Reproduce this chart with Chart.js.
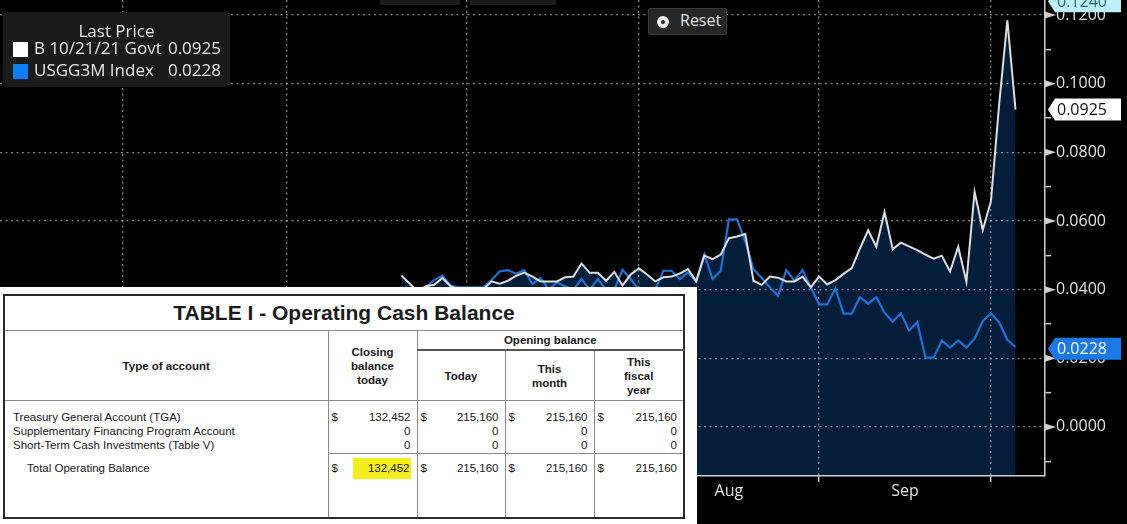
<!DOCTYPE html>
<html>
<head>
<meta charset="utf-8">
<script src="https://cdn.jsdelivr.net/npm/chart.js@4.4.1/dist/chart.umd.min.js"></script>
<style>
html, body { margin: 0; padding: 0; background: #000; }
#wrap { position: relative; width: 1127px; height: 524px; overflow: hidden; background: #000; font-family: "Open Sans", sans-serif; }
#chart { position: absolute; left: 0; top: 0; }
.topbox { position: absolute; top: 0; height: 5px; background: #1d1d1d; }
.legend { position: absolute; left: 3px; top: 12px; width: 227px; height: 75px; background: #1b1b1b; border-radius: 4px; color: #e6e6e6; font-size: 17px; }
.legend .lh { position: absolute; left: 0; right: 0; top: 7px; text-align: center; }
.legend .sw { position: absolute; left: 10px; width: 15px; height: 15px; }
.legend .nm { position: absolute; left: 31px; }
.legend .val { position: absolute; right: 9px; }
.reset { position: absolute; left: 648px; top: 8px; width: 77px; height: 25px; background: #262626; border: 1px solid #3a3a3a; border-radius: 2px; color: #e2e2e2; font-size: 16px; }
.reset .ic { position: absolute; left: 8px; top: 7px; width: 12px; height: 12px; border-radius: 50%; background: #f2f2f2; }
.reset .ic::after { content: ""; position: absolute; left: 4px; top: 4px; width: 4px; height: 4px; border-radius: 50%; background: #262626; }
.reset .tx { position: absolute; left: 31px; top: 0px; }
.doc { position: absolute; left: 0; top: 287px; width: 697px; height: 237px; background: #fff; }
.cash { position: absolute; left: 3px; top: 7px; width: 680px; border-collapse: collapse; table-layout: fixed; font-family: "Liberation Sans", Arial, sans-serif; color: #1a1a1a; border: 2px solid #2a2a2a; }
.cash td, .cash th { border: 1px solid #8a8a8a; padding: 0; font-size: 11.5px; line-height: 14px; }
.cash th { font-weight: bold; text-align: center; vertical-align: middle; }
.cash .title { height: 34px; font-size: 21px; font-weight: bold; text-align: center; vertical-align: middle; line-height: 24px; }
.cash .r-h1 th { height: 18px; }
.cash th.open { border-bottom: 2px solid #555; }
.cash .r-h2 th { height: 49px; }
.cash td.acct { vertical-align: top; padding: 9px 0 0 8px; border-bottom: 2px solid #2a2a2a; }
.cash .tot { margin-top: 9px; padding-left: 14px; }
.cash .r-body td.num { height: 43px; padding-top: 9px; }
.cash td.num { vertical-align: top; text-align: right; padding: 7px 6px 0 3px; }
.cash .cur { float: left; }
.cash .r-total td.num { border-top: 1px solid #333; height: 56px; }
.cash .hl { background: #f4ef1c; padding: 4px 1px 5px 15px; }
</style>
</head>
<body>
<div id="wrap">
  <canvas id="chart" width="1127" height="524"></canvas>

  <div class="topbox" style="left:380px;width:80px"></div>
  <div class="topbox" style="left:470px;width:86px"></div>

  <div class="legend">
    <div class="lh">Last Price</div>
    <span class="sw" style="top:30px;background:#ffffff"></span>
    <span class="nm" style="top:24px">B 10/21/21 Govt</span>
    <span class="val" style="top:24px">0.0925</span>
    <span class="sw" style="top:52px;background:#0b7ff5"></span>
    <span class="nm" style="top:46px">USGG3M Index</span>
    <span class="val" style="top:46px">0.0228</span>
  </div>

  <div class="reset"><span class="ic"></span><span class="tx">Reset</span></div>

  <div class="doc">
    <table class="cash">
      <colgroup><col style="width:324px"><col style="width:89px"><col style="width:88px"><col style="width:89px"><col style="width:90px"></colgroup>
      <tr><td colspan="5" class="title">TABLE I - Operating Cash Balance</td></tr>
      <tr class="r-h1"><th rowspan="2">Type of account</th><th rowspan="2">Closing<br>balance<br>today</th><th colspan="3" class="open">Opening balance</th></tr>
      <tr class="r-h2"><th>Today</th><th>This<br>month</th><th>This<br>fiscal<br>year</th></tr>
      <tr class="r-body">
        <td rowspan="2" class="acct">Treasury General Account (TGA)<br>Supplementary Financing Program Account<br>Short-Term Cash Investments (Table V)<div class="tot">Total Operating Balance</div></td>
        <td class="num"><span class="cur">$</span>132,452<br>0<br>0</td>
        <td class="num"><span class="cur">$</span>215,160<br>0<br>0</td>
        <td class="num"><span class="cur">$</span>215,160<br>0<br>0</td>
        <td class="num"><span class="cur">$</span>215,160<br>0<br>0</td>
      </tr>
      <tr class="r-total">
        <td class="num"><span class="cur">$</span><span class="hl">132,452</span></td>
        <td class="num"><span class="cur">$</span>215,160</td>
        <td class="num"><span class="cur">$</span>215,160</td>
        <td class="num"><span class="cur">$</span>215,160</td>
      </tr>
    </table>
  </div>
</div>

<script>
// trading days counted from 3 May 2021, the first point is 21 Jun 2021
const firstDay = 34;
const monthStarts = [0, 20, 42, 63, 85, 106, 127];
const monthNames = ["May", "Jun", "Jul", "Aug", "Sep", "Oct"];

// B 10/21/21 Govt
const billYield = [
  0.0441, 0.0418, 0.0395, 0.0410, 0.0414, 0.0434, 0.0410, 0.0398, 0.0395, 0.0396,
  0.0400, 0.0424, 0.0417, 0.0426, 0.0440, 0.0450, 0.0438, 0.0424, 0.0424, 0.0424,
  0.0436, 0.0438, 0.0476, 0.0449, 0.0449, 0.0426, 0.0452, 0.0412, 0.0444, 0.0462,
  0.0444, 0.0424, 0.0436, 0.0438, 0.0447, 0.0460, 0.0424, 0.0499, 0.0489, 0.0502,
  0.0550, 0.0555, 0.0562, 0.0426, 0.0414, 0.0438, 0.0435, 0.0424, 0.0424, 0.0438,
  0.0407, 0.0438, 0.0415, 0.0428, 0.0446, 0.0463, 0.0520, 0.0573, 0.0525, 0.0626,
  0.0518, 0.0537, 0.0526, 0.0515, 0.0502, 0.0490, 0.0499, 0.0453, 0.0525, 0.0423,
  0.0685, 0.0574, 0.0658, 0.0940, 0.1185, 0.0925
];

// USGG3M Index
const usgg3m = [
  0.0380, 0.0385, 0.0390, 0.0407, 0.0428, 0.0441, 0.0412, 0.0407, 0.0407, 0.0407,
  0.0407, 0.0428, 0.0453, 0.0457, 0.0446, 0.0457, 0.0417, 0.0434, 0.0400, 0.0421,
  0.0410, 0.0400, 0.0431, 0.0400, 0.0431, 0.0400, 0.0400, 0.0458, 0.0431, 0.0400,
  0.0400, 0.0400, 0.0455, 0.0455, 0.0431, 0.0450, 0.0424, 0.0503, 0.0431, 0.0455,
  0.0605, 0.0605, 0.0540, 0.0460, 0.0434, 0.0407, 0.0382, 0.0457, 0.0426, 0.0457,
  0.0407, 0.0357, 0.0357, 0.0404, 0.0330, 0.0330, 0.0378, 0.0359, 0.0378, 0.0333,
  0.0307, 0.0331, 0.0281, 0.0305, 0.0202, 0.0202, 0.0252, 0.0231, 0.0252, 0.0231,
  0.0257, 0.0308, 0.0331, 0.0305, 0.0254, 0.0233
];

const lastPrice = [0.0925, 0.0228];
const highMark = 0.1240;

const xMin = -15.02, xMax = 112.6;
const yMin = -0.0143, yMax = 0.1244;

const gridColor = "rgba(165,165,165,0.8)";
const axisColor = "#cfcfcf";
const labelColor = "#e4e4e4";

const toPoints = arr => arr.map((v, i) => ({ x: firstDay + i, y: v }));

// month starts carry the grid, the middle of each month carries its name
const monthMids = monthNames.map((m, i) => (monthStarts[i] + monthStarts[i + 1]) / 2);
const xTickVals = monthStarts.concat(monthMids).sort((a, b) => a - b);
const isMonthStart = v => monthStarts.includes(v);
const isMajor = v => Math.abs(Math.round(v * 100)) % 2 === 0;

const priceTags = {
  id: "priceTags",
  afterDraw(chart) {
    const { ctx, chartArea } = chart;
    const y = chart.scales.y;
    const x0 = chartArea.right;
    ctx.save();
    ctx.fillStyle = axisColor;
    y.ticks.forEach(t => {
      if (!isMajor(t.value)) return;
      const py = y.getPixelForValue(t.value);
      ctx.beginPath();
      ctx.moveTo(x0, py - 3.5);
      ctx.lineTo(x0 + 11, py);
      ctx.lineTo(x0, py + 3.5);
      ctx.closePath();
      ctx.fill();
    });
    const tags = [
      { v: highMark, bg: "#bdeff6", fg: "#2b6b78" },
      { v: lastPrice[0], bg: "#ffffff", fg: "#111111" },
      { v: lastPrice[1], bg: "#1a78e8", fg: "#ffffff" }
    ];
    ctx.font = "16px 'Open Sans'";
    ctx.textBaseline = "middle";
    tags.forEach(tag => {
      const py = y.getPixelForValue(tag.v);
      ctx.fillStyle = tag.bg;
      ctx.beginPath();
      ctx.moveTo(x0 + 3, py);
      ctx.lineTo(x0 + 10, py - 11);
      ctx.lineTo(x0 + 76, py - 11);
      ctx.lineTo(x0 + 76, py + 11);
      ctx.lineTo(x0 + 10, py + 11);
      ctx.closePath();
      ctx.fill();
      ctx.fillStyle = tag.fg;
      ctx.fillText(tag.v.toFixed(4), x0 + 12, py + 1);
    });
    ctx.restore();
  }
};

new Chart(document.getElementById("chart"), {
  type: "line",
  data: {
    datasets: [
      {
        label: "B 10/21/21 Govt",
        data: toPoints(billYield),
        borderColor: "#dedede",
        borderWidth: 2,
        backgroundColor: "#031d3b",
        fill: "start",
        pointRadius: 0,
        tension: 0,
        order: 0
      },
      {
        label: "USGG3M Index",
        data: toPoints(usgg3m),
        borderColor: "#1f72d8",
        borderWidth: 2.2,
        fill: false,
        pointRadius: 0,
        tension: 0,
        order: 1
      }
    ]
  },
  options: {
    responsive: false,
    animation: false,
    layout: { padding: 0 },
    plugins: {
      legend: { display: false },
      tooltip: { enabled: false },
      filler: { drawTime: "beforeDraw" }
    },
    scales: {
      x: {
        type: "linear",
        min: xMin,
        max: xMax,
        afterBuildTicks: s => {
          s.ticks = xTickVals.filter(v => v >= s.min && v <= s.max).map(v => ({ value: v }));
        },
        afterFit: s => { s.height = 48; s.paddingLeft = 0; s.paddingRight = 0; },
        grid: {
          color: c => (c.tick && isMonthStart(c.tick.value) ? gridColor : "transparent"),
          lineWidth: 1.3,
          tickLength: 6,
          tickWidth: 1.5,
          tickColor: c => (c.tick && isMonthStart(c.tick.value) ? axisColor : "transparent")
        },
        border: { display: true, color: axisColor, width: 1.5, dash: [2, 3.5] },
        ticks: {
          autoSkip: false,
          maxRotation: 0,
          padding: 0,
          color: labelColor,
          font: { family: "Open Sans", size: 16 },
          callback: v => {
            const i = monthMids.indexOf(v);
            return i < 0 ? "" : monthNames[i];
          }
        }
      },
      y: {
        position: "right",
        min: yMin,
        max: yMax,
        afterFit: s => { s.width = 82; s.paddingTop = 0; s.paddingBottom = 0; },
        grid: {
          color: c => (c.tick && isMajor(c.tick.value) ? gridColor : "transparent"),
          lineWidth: 1.3,
          tickLength: 6,
          tickWidth: 1.5,
          tickColor: c => (c.tick && !isMajor(c.tick.value) ? axisColor : "transparent")
        },
        border: { display: true, color: axisColor, width: 1.5, dash: [2, 3.5] },
        ticks: {
          stepSize: 0.01,
          includeBounds: false,
          autoSkip: false,
          padding: 5,
          color: labelColor,
          font: { family: "Open Sans", size: 16 },
          callback: v => (isMajor(v) ? v.toFixed(4) : "")
        }
      }
    }
  },
  plugins: [priceTags]
});
</script>
</body>
</html>
